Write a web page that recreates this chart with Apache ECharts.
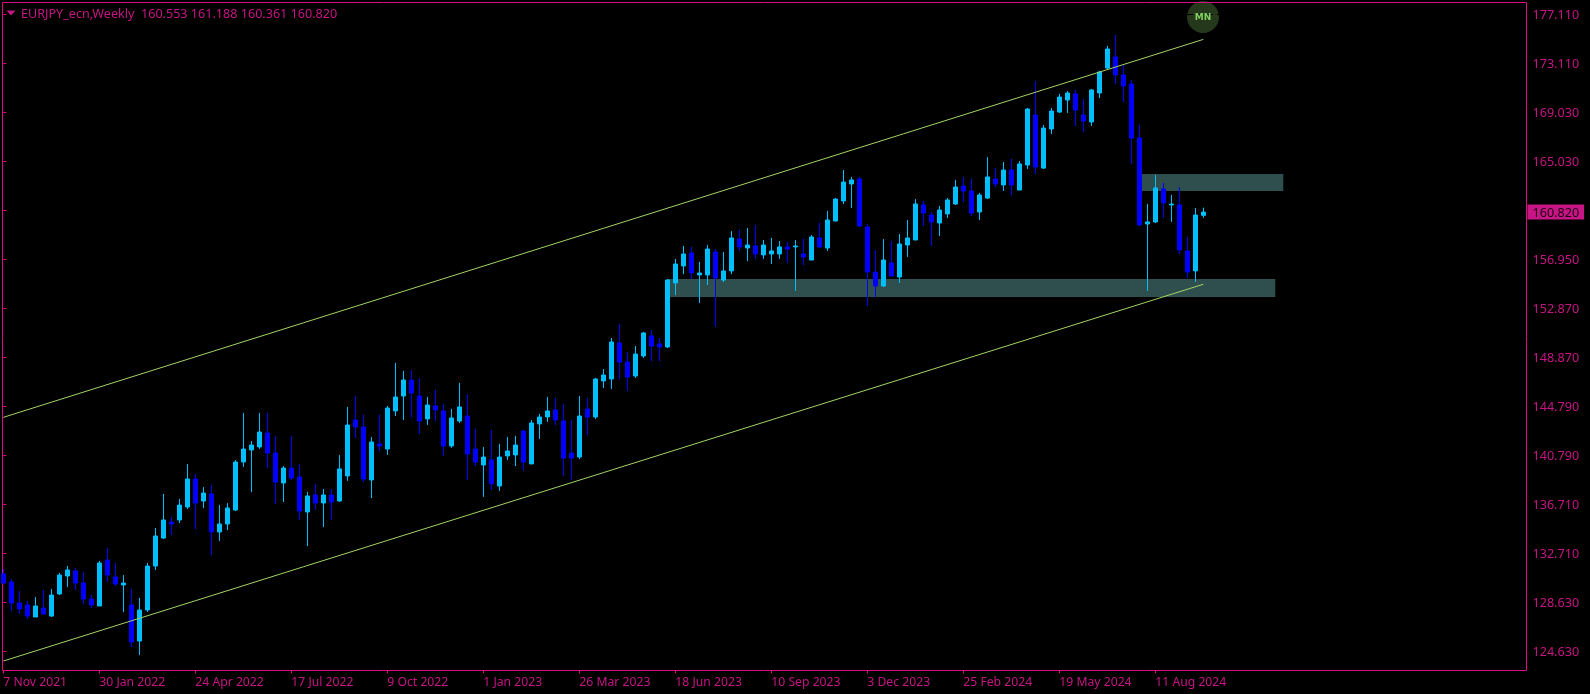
<!DOCTYPE html>
<html>
<head>
<meta charset="utf-8">
<title>EURJPY_ecn,Weekly</title>
<script src="https://cdn.jsdelivr.net/npm/echarts@6/dist/echarts.min.js"></script>
<style>
  html, body { margin: 0; padding: 0; background: #000; }
  #chart { width: 1590px; height: 694px; }
</style>
</head>
<body>
<div id="chart"></div>
<script>
const opens = [
  130.99,130.33,128.59,128.43,127.44,128.18,127.52,129.34,130.82,131.23,
  130.24,128.92,128.35,132.14,130.74,130.08,128.43,125.46,128.02,131.64,
  133.95,135.27,135.44,136.51,138.82,137.00,137.58,134.45,135.11,136.26,
  140.22,141.21,141.46,142.61,140.96,138.49,139.72,138.98,136.10,137.50,
  136.84,137.50,137.01,139.07,143.68,143.11,138.74,141.71,141.29,144.43,
  145.66,146.98,145.66,143.77,144.84,144.43,141.54,143.60,144.01,141.29,
  139.97,140.39,138.24,140.72,140.80,142.78,140.06,143.36,143.93,144.51,
  143.60,140.96,140.63,144.59,143.93,146.90,147.06,150.03,148.46,147.31,
  148.96,150.61,149.95,149.70,154.98,156.38,157.45,155.64,155.64,157.53,
  155.22,155.97,158.60,157.86,158.03,157.29,157.37,157.37,157.95,157.95,
  157.37,156.87,158.69,157.86,160.09,161.74,163.14,163.55,159.59,155.88,
  154.73,156.63,155.47,158.11,158.52,161.41,160.58,159.92,160.67,161.49,
  162.97,162.56,160.83,161.98,163.55,163.06,164.29,162.64,164.70,168.82,
  164.45,167.67,169.07,170.06,170.56,168.82,168.25,170.64,172.70,173.61,
  172.13,171.38,166.93,159.84,160.01,162.73,161.41,161.41,157.62,155.97,
  160.553
];
const closes = [
  130.24,128.59,128.10,127.52,128.35,127.69,129.25,130.90,131.32,130.24,
  128.92,128.43,131.89,130.90,130.16,130.24,125.38,128.02,131.64,134.12,
  135.44,135.11,136.67,138.82,136.84,137.66,134.45,135.11,136.43,140.22,
  141.29,141.62,142.69,140.96,138.57,139.72,138.90,136.18,137.42,136.84,
  137.50,136.92,139.65,143.27,143.11,138.82,141.87,141.54,144.67,145.58,
  146.98,145.91,143.60,144.92,144.51,141.54,143.85,144.76,140.88,140.22,
  140.63,138.41,140.63,141.13,141.62,140.22,143.44,143.93,144.43,143.68,
  140.55,140.55,144.01,143.93,147.06,147.39,150.11,148.46,147.23,149.12,
  150.86,149.78,149.70,155.22,156.54,157.37,155.80,155.80,157.78,155.39,
  155.97,158.69,157.95,158.11,157.37,158.11,157.62,157.95,157.78,158.03,
  157.12,158.77,157.95,160.17,161.90,163.30,163.47,159.68,155.88,154.73,
  156.87,155.55,158.19,158.69,161.49,160.75,160.01,160.99,161.82,162.89,
  162.56,160.75,162.23,163.72,163.14,164.29,163.06,164.79,169.32,164.54,
  167.75,169.15,170.31,170.64,169.24,168.33,170.89,172.37,174.27,172.13,
  171.22,166.93,159.76,160.01,162.81,161.57,161.49,157.70,155.89,160.58,
  160.820
];
const lows = [
  130.20,127.94,127.69,127.28,127.44,127.69,127.44,129.25,129.91,129.67,
  128.51,128.18,128.35,130.33,130.00,127.85,124.97,124.31,127.85,131.32,
  133.87,134.20,135.19,136.34,134.70,136.43,132.55,133.71,134.61,136.18,
  139.81,137.75,141.29,139.72,136.76,136.92,138.73,135.44,133.29,136.27,
  134.86,135.44,136.92,138.66,142.20,138.57,137.25,141.13,140.80,144.01,
  143.68,143.93,142.53,143.27,143.60,140.72,141.38,143.44,138.74,139.89,
  137.34,137.91,137.83,140.39,139.89,139.48,140.06,142.12,143.52,143.27,
  139.07,138.74,140.47,142.45,143.77,146.32,146.24,147.06,146.07,147.15,
  148.79,148.55,148.55,149.62,153.99,155.72,155.31,153.33,154.81,151.35,
  155.06,155.72,157.62,156.79,156.96,156.96,156.54,156.96,156.63,154.32,
  156.46,156.87,157.86,157.62,160.05,161.49,161.16,159.59,153.08,153.82,
  154.65,155.55,154.98,157.12,158.52,159.68,158.03,158.85,160.34,161.41,
  161.65,160.50,160.17,161.90,162.89,162.56,162.23,162.64,164.37,163.96,
  164.37,167.26,168.99,168.99,167.92,167.42,167.92,170.23,172.54,171.38,
  169.90,164.79,159.68,154.32,159.92,160.34,160.01,157.37,155.39,155.06,
  160.361
];
const highs = [
  131.40,130.57,129.58,128.76,129.09,129.67,129.75,131.07,131.64,131.48,
  131.15,129.25,132.06,133.13,131.89,130.90,129.75,129.01,131.89,134.78,
  137.58,135.68,137.17,140.05,139.23,138.16,138.32,136.67,136.84,140.38,
  144.26,141.95,144.26,144.26,142.36,139.89,142.36,140.05,137.75,138.41,
  138.00,138.00,140.80,144.76,145.66,144.10,142.28,144.10,144.84,148.38,
  147.72,147.81,147.15,145.58,146.16,145.00,144.59,146.74,145.83,142.94,
  141.46,142.86,141.71,142.28,142.37,142.86,143.68,144.18,145.58,145.50,
  145.00,143.68,145.66,145.50,147.15,147.89,150.44,151.60,149.29,149.78,
  150.94,151.10,150.44,155.31,156.96,158.03,157.95,156.71,158.11,157.78,
  157.53,159.26,159.35,159.51,159.76,158.52,158.69,158.44,158.36,158.52,
  158.60,158.93,159.92,160.91,161.98,164.29,163.72,163.72,159.84,157.70,
  158.60,158.44,159.02,160.17,161.90,161.74,160.83,161.32,161.98,163.47,
  163.72,163.55,162.40,165.36,164.46,164.95,165.20,165.03,169.40,171.63,
  168.00,169.40,170.56,170.80,170.89,170.14,170.97,172.46,174.52,175.42,
  172.95,171.71,168.00,161.49,163.88,163.22,162.23,162.89,158.77,161.16,
  161.188
];

// date labels sit every 12 weekly bars
const dateLabels = ['7 Nov 2021', '30 Jan 2022', '24 Apr 2022', '17 Jul 2022', '9 Oct 2022', '1 Jan 2023',
  '26 Mar 2023', '18 Jun 2023', '10 Sep 2023', '3 Dec 2023', '25 Feb 2024', '19 May 2024', '11 Aug 2024'];
const priceTicks = [177.11, 173.11, 169.03, 165.03, 160.95, 156.95, 152.87, 148.87, 144.79, 140.79, 136.71, 132.71, 128.63, 124.63];
const priceLabels = [177.11, 173.11, 169.03, 165.03, 160.82, 156.95, 152.87, 148.87, 144.79, 140.79, 136.71, 132.71, 128.63, 124.63];

// trend channel: bar index and price at both ends
const channelBars = [0, 150];
const channelUpper = [143.90, 175.06];
const channelLower = [123.81, 154.87];

// supply / demand boxes
const zoneFrom = [83, 142];
const zoneTo = [159, 160];
const zoneHigh = [155.30, 163.96];
const zoneLow = [153.82, 162.56];

const pink = '#C71585';
const frameColor = '#D8107F';
const lineColor = '#A2D465';
const fontFamily = 'Noto Sans';

const chart = echarts.init(document.getElementById('chart'));

const candles = opens.map((o, i) => [i, o, closes[i], lows[i], highs[i]]);
const lastClose = closes[closes.length - 1];

chart.setOption({
  animation: false,
  backgroundColor: '#000',
  title: {
    text: 'EURJPY_ecn,Weekly  160.553 161.188 160.361 160.820',
    left: 21,
    top: 7.5,
    padding: 0,
    textStyle: { color: pink, fontFamily, fontSize: 12.6, fontWeight: 'normal' }
  },
  grid: {
    show: true,
    left: 2.5,
    right: 63.5,
    top: 2.5,
    bottom: 23.5,
    backgroundColor: '#000',
    borderColor: frameColor,
    borderWidth: 1
  },
  xAxis: {
    type: 'value',
    min: -0.1,
    max: 190.4,
    splitLine: { show: false },
    axisLine: { show: false },
    axisTick: {
      show: true,
      length: 3,
      lineStyle: { color: frameColor },
      customValues: dateLabels.map((d, i) => i * 12)
    },
    axisLabel: {
      color: pink,
      fontFamily,
      fontSize: 12.2,
      margin: 6,
      align: 'left',
      customValues: dateLabels.map((d, i) => i * 12),
      formatter: function(value) {
        return dateLabels[value / 12];
      }
    }
  },
  yAxis: {
    type: 'value',
    position: 'right',
    min: 123.03,
    max: 178.10,
    splitLine: { show: false },
    axisLine: { show: false },
    axisTick: {
      show: true,
      length: 3,
      lineStyle: { color: frameColor },
      customValues: priceTicks
    },
    axisLabel: {
      margin: 1,
      customValues: priceLabels,
      formatter: function(value) {
        return value === lastClose ? `{tag|${value.toFixed(3)}}` : `{num|${value.toFixed(3)}}`;
      },
      rich: {
        num: { color: pink, fontFamily, fontSize: 12.6, padding: [2, 5, 0, 5] },
        tag: { color: '#1a0010', fontFamily, fontSize: 12.6, backgroundColor: pink, padding: [2, 5, 0, 5] }
      }
    }
  },
  series: [
    {
      name: 'zones',
      type: 'line',
      data: [],
      silent: true,
      markArea: {
        silent: true,
        itemStyle: { color: '#2F4F4F', opacity: 1 },
        data: zoneFrom.map((from, i) => [
          { coord: [from, zoneHigh[i]] },
          { coord: [zoneTo[i], zoneLow[i]] }
        ])
      },
      z: 1
    },
    {
      name: 'EURJPY',
      type: 'candlestick',
      data: candles,
      encode: { x: 0, y: [1, 2, 3, 4] },
      barWidth: 5,
      itemStyle: {
        color: '#00BFFF',
        color0: '#0000FF',
        borderColor: '#00BFFF',
        borderColor0: '#0000FF',
        borderWidth: 1
      },
      z: 2
    },
    {
      name: 'upper',
      type: 'line',
      data: channelBars.map((b, i) => [b, channelUpper[i]]),
      symbol: 'none',
      lineStyle: { color: lineColor, width: 1 },
      z: 3
    },
    {
      name: 'lower',
      type: 'line',
      data: channelBars.map((b, i) => [b, channelLower[i]]),
      symbol: 'none',
      lineStyle: { color: lineColor, width: 1 },
      z: 3
    }
  ],
  graphic: [
    { type: 'polygon', shape: { points: [[6.5, 10.5], [15.5, 10.5], [11, 15.5]] }, style: { fill: pink }, z: 10 },
    { type: 'circle', shape: { cx: 1203, cy: 17, r: 16 }, style: { fill: '#26381C' }, z: 10 },
    { type: 'line', shape: { x1: 1187, y1: 14.5, x2: 1220, y2: 14.5 }, style: { stroke: '#000', lineWidth: 1, lineDash: [6, 4] }, z: 11 },
    {
      type: 'text',
      x: 1203,
      y: 17.5,
      style: { text: 'MN', fill: '#7FD060', font: 'bold 9px "DejaVu Sans"', textAlign: 'center', textVerticalAlign: 'middle' },
      z: 12
    },
    { type: 'line', shape: { x1: 1187, y1: 2.5, x2: 1220, y2: 2.5 }, style: { stroke: frameColor, lineWidth: 1 }, z: 12 }
  ]
});
</script>
</body>
</html>
